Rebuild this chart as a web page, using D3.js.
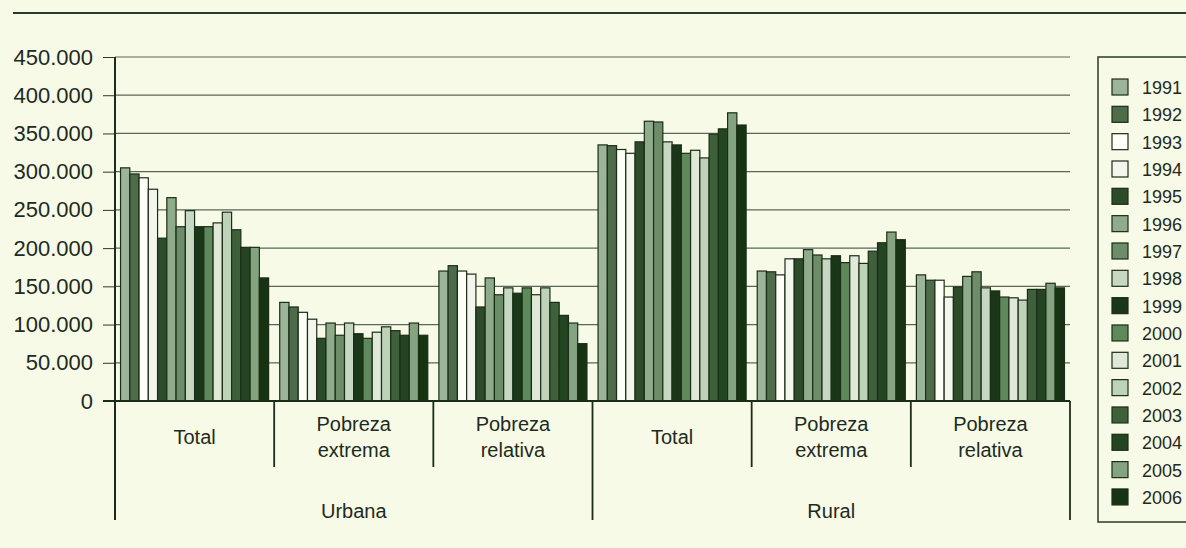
<!DOCTYPE html>
<html>
<head>
<meta charset="utf-8">
<script src="https://cdn.jsdelivr.net/npm/d3@7"></script>
<style>
  body { margin: 0; background: #f6fae6; }
  svg { display: block; font-family: "Liberation Sans", Arial, sans-serif; }
</style>
</head>
<body>
<svg id="chart" width="1186" height="548"></svg>
<script>
// categories: area / poverty type
var groups = ["U-Total", "U-Extrema", "U-Relativa", "R-Total", "R-Extrema", "R-Relativa"];
var groupLabels = [["Total"], ["Pobreza", "extrema"], ["Pobreza", "relativa"],
                   ["Total"], ["Pobreza", "extrema"], ["Pobreza", "relativa"]];
var areas = ["Urbana", "Rural"];
var years = ["1991", "1992", "1993", "1994", "1995", "1996", "1997", "1998",
             "1999", "2000", "2001", "2002", "2003", "2004", "2005", "2006"];
var yTicks = [0, 50000, 100000, 150000, 200000, 250000, 300000, 350000, 400000, 450000];

// values per group, one per year 1991..2006
var urbTotal    = [305000, 297000, 292000, 277000, 213000, 266000, 228000, 249000, 228000, 228000, 233000, 247000, 224000, 201000, 201000, 161000];
var urbExtrema  = [129000, 123000, 116000, 107000, 82000, 102000, 86000, 102000, 88000, 82000, 90000, 97000, 92000, 86000, 102000, 86000];
var urbRelativa = [170000, 177000, 170000, 166000, 123000, 161000, 139000, 148000, 141000, 148000, 139000, 148000, 129000, 112000, 102000, 75000];
var rurTotal    = [335000, 334000, 329000, 324000, 339000, 366000, 365000, 339000, 335000, 324000, 328000, 318000, 349000, 356000, 377000, 361000];
var rurExtrema  = [170000, 169000, 165000, 186000, 186000, 198000, 191000, 186000, 190000, 181000, 190000, 180000, 196000, 207000, 221000, 211000];
var rurRelativa = [165000, 158000, 158000, 136000, 149000, 163000, 169000, 148000, 144000, 136000, 135000, 132000, 146000, 146000, 154000, 148000];
var series = [urbTotal, urbExtrema, urbRelativa, rurTotal, rurExtrema, rurRelativa];

var colors = ["#9cb598", "#4e6c4a", "#fdfef6", "#f3f6ec", "#2c4b29", "#8eac8a",
              "#6d8d69", "#c6d8c1", "#1a3818", "#5e895a", "#e0e9d8", "#bdd2b6",
              "#3e603b", "#23451f", "#84a480", "#163312"];

var svg = d3.select("#chart");
var plotL = 115, plotR = 1070, plotT = 57, plotB = 401;

var x0 = d3.scaleBand().domain(groups).range([plotL, plotR]);
var x1 = d3.scaleBand().domain(years).range([0, x0.bandwidth()]).paddingOuter(0.6);
var y = d3.scaleLinear().domain([0, 450000]).range([plotB, plotT]);
var color = d3.scaleOrdinal().domain(years).range(colors);

// top rule
svg.append("line").attr("x1", 13).attr("x2", 1186).attr("y1", 13).attr("y2", 13)
    .attr("stroke", "#2a3a28").attr("stroke-width", 2);

// gridlines + y axis
var yAxis = d3.axisLeft(y).tickValues(yTicks).tickSize(12).tickPadding(10)
    .tickFormat(function (d) { return d === 0 ? "0" : d3.format(",")(d).replace(/,/g, "."); });
var ga = svg.append("g").attr("transform", "translate(" + plotL + ",0)").call(yAxis);
ga.select(".domain").remove();
ga.selectAll("text").attr("font-size", 22).attr("fill", "#1f2a1e").attr("font-family", null);
ga.selectAll(".tick line").attr("stroke", "#2a3a28");

svg.append("g").selectAll("line").data(yTicks.slice(1)).enter().append("line")
    .attr("x1", plotL).attr("x2", plotR)
    .attr("y1", function (d) { return y(d); }).attr("y2", function (d) { return y(d); })
    .attr("stroke", "#5a6658").attr("stroke-width", 1.2);

// bars
var g = svg.append("g").selectAll("g").data(groups).enter().append("g")
    .attr("transform", function (d) { return "translate(" + x0(d) + ",0)"; });
g.selectAll("rect")
    .data(function (d, i) { return series[i].map(function (v, j) { return { year: years[j], v: v }; }); })
    .enter().append("rect")
    .attr("x", function (d) { return x1(d.year); })
    .attr("y", function (d) { return y(d.v); })
    .attr("width", x1.bandwidth())
    .attr("height", function (d) { return plotB - y(d.v); })
    .attr("fill", function (d) { return color(d.year); })
    .attr("stroke", "#1c2c1a").attr("stroke-width", 1.2);

// axis lines
svg.append("line").attr("x1", plotL).attr("x2", plotL).attr("y1", plotT).attr("y2", 520)
    .attr("stroke", "#1c2c1a").attr("stroke-width", 2);
svg.append("line").attr("x1", plotL - 12).attr("x2", plotR).attr("y1", plotB).attr("y2", plotB)
    .attr("stroke", "#1c2c1a").attr("stroke-width", 2);

// group separators
var seps = groups.map(function (d) { return x0(d); }).concat([plotR]);
svg.append("g").selectAll("line").data(seps).enter().append("line")
    .attr("x1", function (d) { return d; }).attr("x2", function (d) { return d; })
    .attr("y1", plotB)
    .attr("y2", function (d, i) { return (i % 3 === 0) ? 520 : 467; })
    .attr("stroke", "#1c2c1a").attr("stroke-width", 1.8);

// category labels
var cl = svg.append("g").selectAll("text").data(groups).enter().append("text")
    .attr("text-anchor", "middle").attr("font-size", 20).attr("fill", "#1f2a1e");
cl.each(function (d, i) {
    var lines = groupLabels[i];
    var t = d3.select(this);
    lines.forEach(function (s, k) {
        var yy = lines.length === 1 ? 444 : 431 + k * 26;
        t.append("tspan").attr("x", x0(d) + x0.bandwidth() / 2).attr("y", yy).text(s);
    });
});

svg.append("g").selectAll("text").data(areas).enter().append("text")
    .attr("x", function (d, i) { return x0(groups[i * 3 + 1]) + x0.bandwidth() / 2; })
    .attr("y", 518).attr("text-anchor", "middle").attr("font-size", 20).attr("fill", "#1f2a1e")
    .text(function (d) { return d; });

// legend
svg.append("rect").attr("x", 1098).attr("y", 57).attr("width", 100).attr("height", 465)
    .attr("fill", "none").attr("stroke", "#2a3a28").attr("stroke-width", 1.5);
var leg = svg.append("g").selectAll("g").data(years).enter().append("g")
    .attr("transform", function (d, i) { return "translate(1112," + (87 + i * 27.33) + ")"; });
leg.append("rect").attr("x", 0).attr("y", -8).attr("width", 16).attr("height", 16)
    .attr("fill", function (d) { return color(d); })
    .attr("stroke", "#1c2c1a").attr("stroke-width", 1.2);
leg.append("text").attr("x", 30).attr("y", 7).attr("font-size", 18).attr("fill", "#1f2a1e")
    .text(function (d) { return d; });
</script>
</body>
</html>
